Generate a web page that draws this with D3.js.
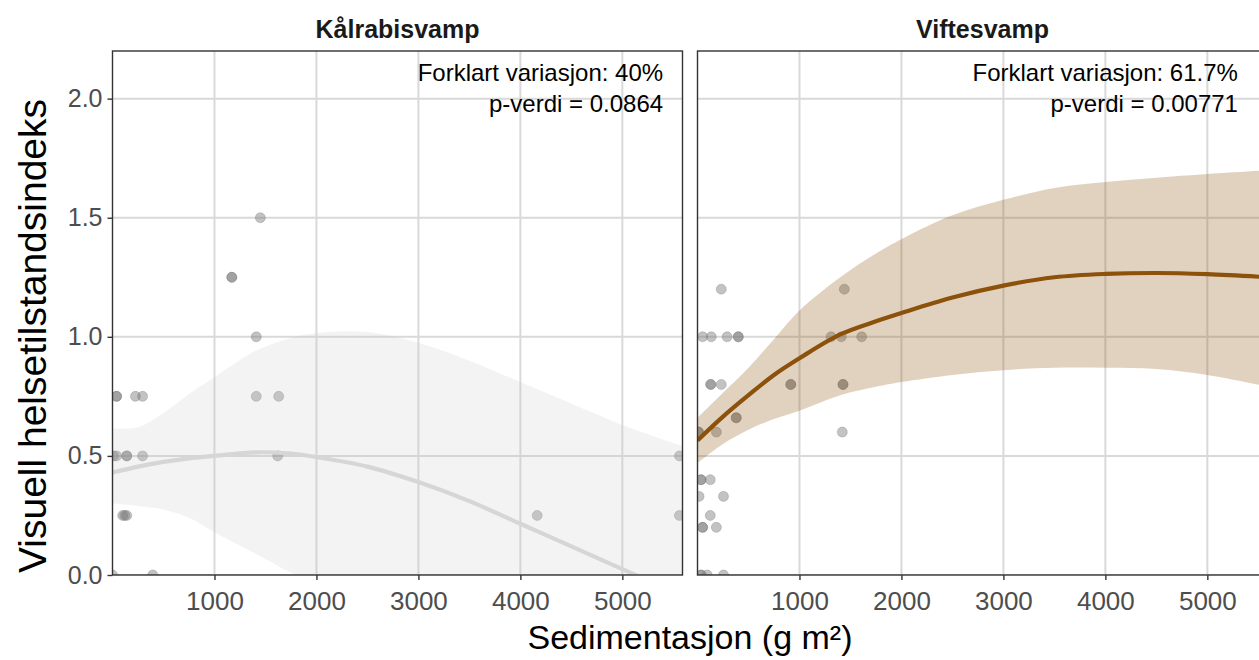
<!DOCTYPE html>
<html>
<head>
<meta charset="utf-8">
<script src="https://cdn.jsdelivr.net/npm/d3@7"></script>
<style>
  body { margin: 0; background: #fff; }
  svg { display: block; font-family: Arial, "Liberation Sans", sans-serif; }
</style>
</head>
<body>
<svg id="chart" width="1259" height="660"></svg>
<script>
// Facet titles and fit annotations
const panelNames = ["Kålrabisvamp", "Viftesvamp"];
const r2Labels = ["Forklart variasjon: 40%", "Forklart variasjon: 61.7%"];
const pLabels = ["p-verdi = 0.0864", "p-verdi = 0.00771"];
const annotX = [5400, 5300];

// Axis ticks
const xTicks = [1000, 2000, 3000, 4000, 5000];
const yTicks = [0, 0.5, 1.0, 1.5, 2.0];
const xLabel = "Sedimentasjon (g m²)";
const yLabel = "Visuell helsetilstandsindeks";

// Observations: Kålrabisvamp
const kalX = [1450, 1170, 1170, 1410, 1410, 1630, 40, 40, 225, 295,
              10, 40, 140, 140, 295, 1620, 100, 140, 120, 0, 395, 4165, 5560, 5560];
const kalY = [1.5, 1.25, 1.25, 1.0, 0.75, 0.75, 0.75, 0.75, 0.75, 0.75,
              0.5, 0.5, 0.5, 0.5, 0.5, 0.5, 0.25, 0.25, 0.25, 0, 0, 0.25, 0.5, 0.25];

// Observations: Viftesvamp
const vifX = [233, 1440,
              50, 135, 290, 400, 400, 1310, 1410, 1610,
              130, 130, 233, 915, 915, 1427, 1427,
              380, 380,
              10, 10, 185, 1420,
              35, 35, 125,
              15, 255,
              125,
              50, 50, 185,
              35, 35, 95, 255];
const vifY = [1.2, 1.2,
              1.0, 1.0, 1.0, 1.0, 1.0, 1.0, 1.0, 1.0,
              0.8, 0.8, 0.8, 0.8, 0.8, 0.8, 0.8,
              0.66, 0.66,
              0.6, 0.6, 0.6, 0.6,
              0.4, 0.4, 0.4,
              0.33, 0.33,
              0.25,
              0.2, 0.2, 0.2,
              0, 0, 0, 0];

// Smoothed fits with confidence bands
const fitX   = [0, 250, 500, 750, 1000, 1400, 1750, 2000, 2500, 3000, 3500, 4000, 4500, 5000, 5600];
const kalFit = [0.43, 0.455, 0.475, 0.49, 0.50, 0.515, 0.51, 0.495, 0.455, 0.39, 0.31, 0.215, 0.12, 0.025, -0.09];
const kalHi  = [0.615, 0.62, 0.68, 0.76, 0.83, 0.94, 0.995, 1.015, 1.02, 0.975, 0.90, 0.81, 0.72, 0.63, 0.54];
const kalLo  = [0.30, 0.29, 0.275, 0.24, 0.18, 0.09, 0.01, -0.03, -0.11, -0.19, -0.28, -0.37, -0.48, -0.58, -0.72];
const vifFit = [0.565, 0.665, 0.755, 0.84, 0.91, 1.01, 1.065, 1.10, 1.165, 1.215, 1.25, 1.264, 1.268, 1.263, 1.25];
const vifHi  = [0.66, 0.765, 0.87, 0.99, 1.11, 1.25, 1.35, 1.41, 1.51, 1.575, 1.625, 1.65, 1.668, 1.684, 1.70];
const vifLo  = [0.47, 0.55, 0.61, 0.655, 0.69, 0.755, 0.79, 0.81, 0.84, 0.86, 0.87, 0.87, 0.865, 0.84, 0.79];

const panels = [
  { name: panelNames[0], r2: r2Labels[0], p: pLabels[0], ax: annotX[0],
    xs: kalX, ys: kalY, fit: kalFit, hi: kalHi, lo: kalLo,
    line: "#d6d6d6", band: "#c8c8c8", bandOpacity: 0.22 },
  { name: panelNames[1], r2: r2Labels[1], p: pLabels[1], ax: annotX[1],
    xs: vifX, ys: vifY, fit: vifFit, hi: vifHi, lo: vifLo,
    line: "#8c510a", band: "#8c510a", bandOpacity: 0.26 }
];

const svg = d3.select("#chart");
const panelW = 570, panelH = 524, panelTop = 51;
const panelLeft = [112.5, 697.5];
const font = "Arial, 'Liberation Sans', sans-serif";

const x = d3.scaleLinear().domain([0, 5590]).range([0, panelW]);
const y = d3.scaleLinear().domain([0, 2.2]).range([panelH, 0]);
const smooth = d3.curveCatmullRom.alpha(0.5);

const defs = svg.append("defs");

panels.forEach((p, i) => {
  const g = svg.append("g").attr("transform", `translate(${panelLeft[i]},${panelTop})`);
  const clipId = "clip" + i;
  defs.append("clipPath").attr("id", clipId)
    .append("rect").attr("width", panelW).attr("height", panelH);

  g.append("rect").attr("width", panelW).attr("height", panelH).attr("fill", "#fff");

  const body = g.append("g").attr("clip-path", `url(#${clipId})`);

  // grid
  body.selectAll(".gx").data(xTicks).join("line")
    .attr("x1", d => x(d)).attr("x2", d => x(d))
    .attr("y1", 0).attr("y2", panelH)
    .attr("stroke", "#d9d9d9").attr("stroke-width", 2);
  body.selectAll(".gy").data(yTicks).join("line")
    .attr("y1", d => y(d)).attr("y2", d => y(d))
    .attr("x1", 0).attr("x2", panelW)
    .attr("stroke", "#d9d9d9").attr("stroke-width", 2);

  // points
  body.selectAll("circle").data(p.xs.map((v, k) => [v, p.ys[k]])).join("circle")
    .attr("cx", d => x(d[0])).attr("cy", d => y(d[1])).attr("r", 5)
    .attr("fill", "#7a7a7a").attr("fill-opacity", 0.45)
    .attr("stroke", "#6a6a6a").attr("stroke-opacity", 0.35).attr("stroke-width", 0.8);

  // confidence band and fitted curve
  const rows = fitX.map((v, k) => ({ x: v, f: p.fit[k], hi: p.hi[k], lo: p.lo[k] }));
  body.append("path").datum(rows)
    .attr("d", d3.area().x(d => x(d.x)).y0(d => y(d.lo)).y1(d => y(d.hi)).curve(smooth))
    .attr("fill", p.band).attr("fill-opacity", p.bandOpacity);
  body.append("path").datum(rows)
    .attr("d", d3.line().x(d => x(d.x)).y(d => y(d.f)).curve(smooth))
    .attr("fill", "none").attr("stroke", p.line).attr("stroke-width", 4.2);

  // border
  g.append("rect").attr("width", panelW).attr("height", panelH)
    .attr("fill", "none").attr("stroke", "#333").attr("stroke-width", 1.4);

  // x axis
  const xa = g.append("g").attr("transform", `translate(0,${panelH})`)
    .call(d3.axisBottom(x).tickValues(xTicks).tickSize(5).tickPadding(12).tickFormat(d3.format("d")));
  xa.select(".domain").remove();
  xa.selectAll("line").attr("stroke", "#333").attr("stroke-width", 1.4);
  xa.selectAll("text").attr("fill", "#4d4d4d").attr("font-size", 26).attr("font-family", font);

  if (i === 0) {
    const ya = g.append("g")
      .call(d3.axisLeft(y).tickValues(yTicks).tickSize(5).tickPadding(5).tickFormat(d3.format(".1f")));
    ya.select(".domain").remove();
    ya.selectAll("line").attr("stroke", "#333").attr("stroke-width", 1.4);
    ya.selectAll("text").attr("fill", "#4d4d4d").attr("font-size", 25).attr("font-family", font);
  }

  // facet title
  g.append("text").attr("x", panelW / 2).attr("y", -13)
    .attr("text-anchor", "middle").attr("font-weight", "bold").attr("font-size", 25)
    .attr("fill", "#1a1a1a").text(p.name);

  // annotations
  g.append("text").attr("x", x(p.ax)).attr("y", 30)
    .attr("text-anchor", "end").attr("font-size", 24).attr("fill", "#000").text(p.r2);
  g.append("text").attr("x", x(p.ax)).attr("y", 61)
    .attr("text-anchor", "end").attr("font-size", 24).attr("fill", "#000").text(p.p);
});

// axis titles
svg.append("text").attr("x", 690).attr("y", 649)
  .attr("text-anchor", "middle").attr("font-size", 34).attr("fill", "#000").text(xLabel);
svg.append("text").attr("transform", "translate(46,336) rotate(-90)")
  .attr("text-anchor", "middle").attr("font-size", 39).attr("fill", "#000").text(yLabel);
</script>
</body>
</html>
